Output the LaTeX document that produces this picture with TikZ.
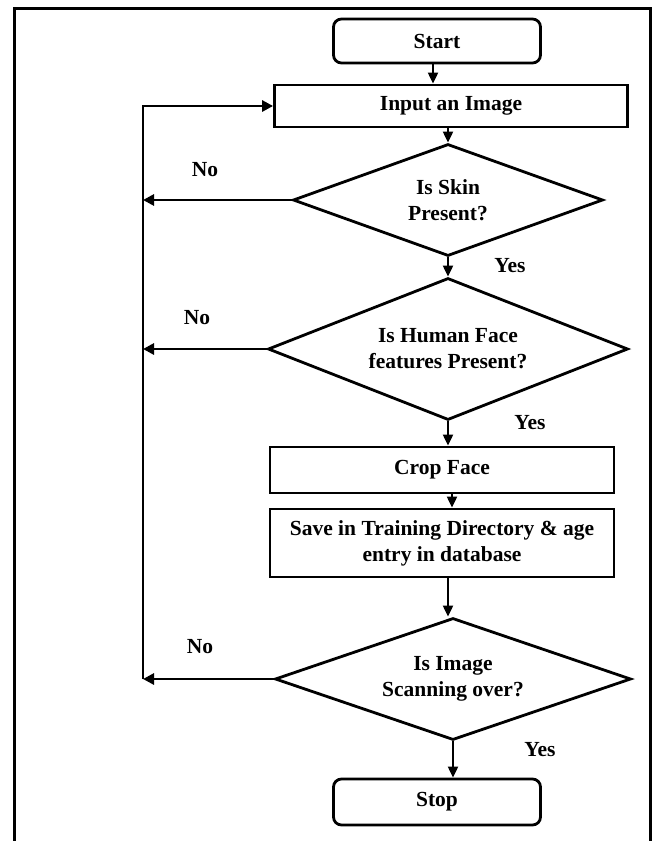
\documentclass[tikz,border=0pt]{standalone}
\usepackage{fontspec}
\setmainfont{Liberation Serif}
\usepackage{tikz}
\usetikzlibrary{shapes.geometric,arrows.meta}

\begin{document}
\begin{tikzpicture}[x=1pt,y=-1pt,
    every node/.style={font=\fontsize{21.5}{26}\selectfont\bfseries,align=center},
    term/.style={draw,line width=2.8pt,rounded corners=8pt,minimum width=207pt,minimum height=44pt,inner sep=0pt},
    proc/.style={draw,line width=2.8pt,minimum width=344pt,inner sep=0pt},
    dec/.style={draw,diamond,line width=2.8pt,aspect=2.8,inner sep=0pt},
    flow/.style={line width=2pt,-{Triangle[length=11pt,width=10pt]}},
    back/.style={line width=2.8pt,-{Triangle[length=11pt,width=11pt]}},
    lbl/.style={inner sep=0pt}]
    \useasboundingbox (0,0) rectangle (657,841);
    \draw[line width=3pt] (14.5,8) rectangle (650,850);

    \node[term] (start) at (437,41) {Start};
    \node[proc,minimum width=353pt,minimum height=42pt] (input) at (451,106) {Input an Image};
    \node[dec,minimum width=310pt,minimum height=112pt] (skin) at (448,200) {Is Skin\\Present?};
    \node[dec,minimum width=360pt,minimum height=142pt] (face) at (448,349) {Is Human Face\\features Present?};
    \node[proc,minimum height=46pt] (crop) at (442,470) {Crop Face};
    \node[proc,minimum height=68pt] (save) at (442,543) {Save in Training Directory \& age\\entry in database};
    \node[dec,minimum width=356pt,minimum height=122pt] (scan) at (453,679) {Is Image\\Scanning over?};
    \node[term,minimum height=46pt] (stop) at (437,802) {Stop};
    \coordinate (loop) at (143,0);

    \node[lbl] (no1) at (205,170) {No};
    \node[lbl] (no2) at (197,318) {No};
    \node[lbl] (no3) at (200,647) {No};
    \node[lbl] (yes1) at (510,266) {Yes};
    \node[lbl] (yes2) at (530,423) {Yes};
    \node[lbl] (yes3) at (540,750) {Yes};

    \draw[flow] (start.south -| 433,0) -- (input.north -| 433,0);
    \draw[flow] (input.south -| skin.north) -- (skin.north);
    \draw[flow] (skin.south) -- (face.north);
    \draw[flow] (face.south) -- (crop.north -| face.south);
    \draw[flow] (crop.south -| 452,0) -- (save.north -| 452,0);
    \draw[flow] (save.south -| 448,0) -- (scan.north -| 448,0);
    \draw[flow] (scan.south) -- (stop.north -| scan.south);

    \draw[back] (skin.west) -- (skin.west -| loop);
    \draw[back] (face.west) -- (face.west -| loop);
    \draw[back] (scan.west) -- (scan.west -| loop);
    \draw[back] (scan.west -| loop) -- (input.west -| loop) -- (input.west);
\end{tikzpicture}
\end{document}
